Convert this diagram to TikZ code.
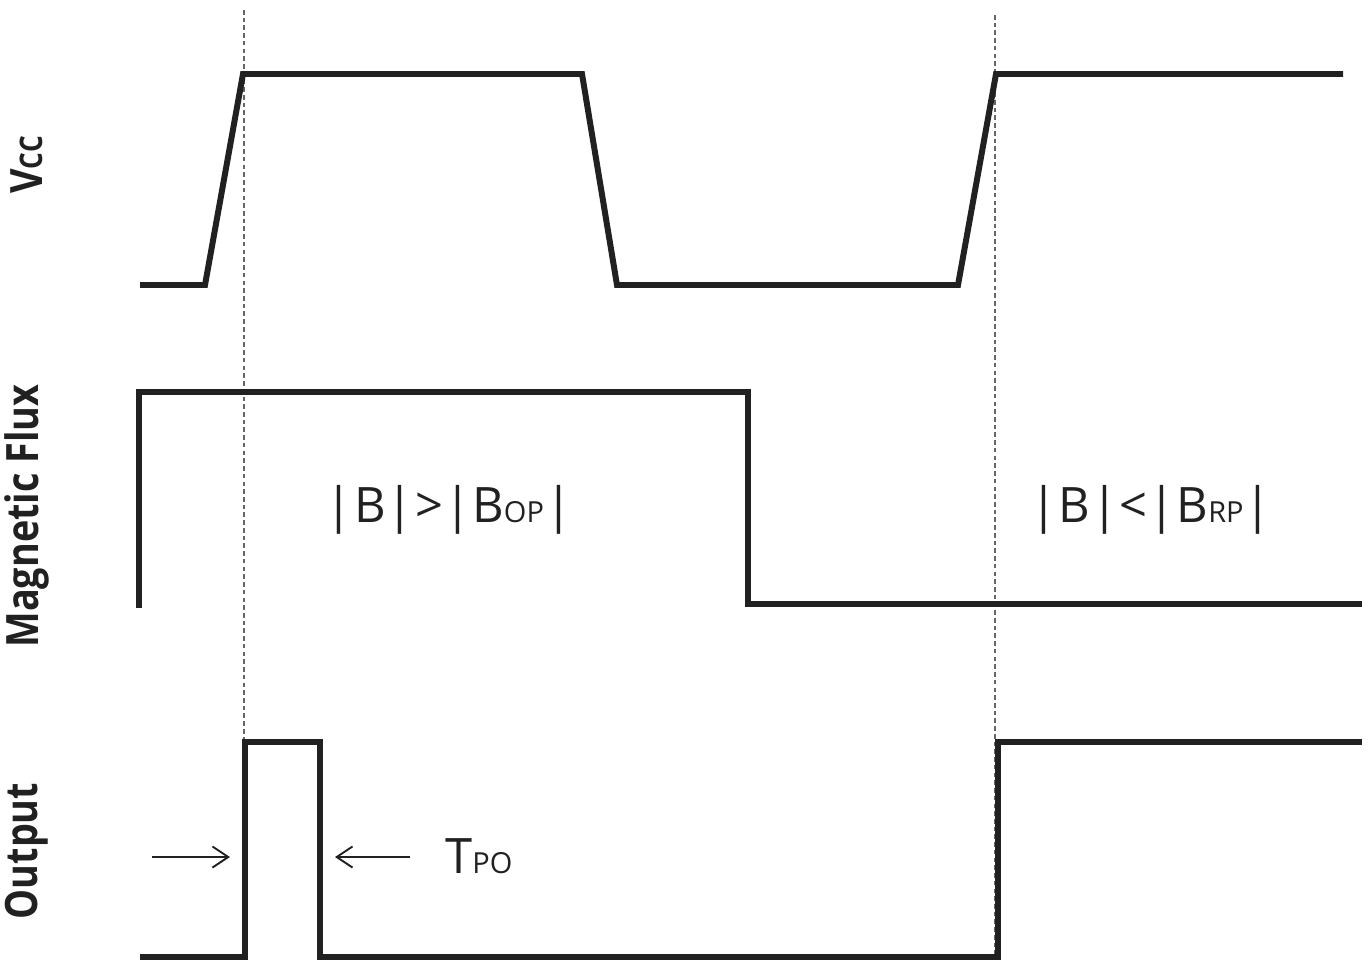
\documentclass[tikz,border=0pt]{standalone}
\usepackage{fontspec}
\setmainfont{Open Sans}
\usetikzlibrary{arrows.meta}

\newcommand{\gap}{\hspace{0.7pt}}

\begin{document}
\begin{tikzpicture}[x=0.02cm, y=-0.02cm, >={Straight Barb[length=9pt, width=12pt]},
    % Stil für die Signalverläufe
        signal/.style={line width=3.4pt, draw=black!87},
    % Stil für die gestrichelten Markierungen
        marker/.style={line width=0.6pt, draw=black!60, dash pattern=on 2.6pt off 1.8pt},
    % Stil für die Achsenbeschriftungen
        axislabel/.style={rotate=90, inner sep=0pt, text=black!87, font=\bfseries\fontsize{21.5}{24}\selectfont},
    % Stil für die Texte im Diagramm
        note/.style={inner sep=0pt, text=black!87, font=\fontsize{27.8}{30}\selectfont},
        tpoarrow/.style={->, line width=1.1pt, draw=black!87}]

        \useasboundingbox (0,0) rectangle (1370,960);

        % Achsenbeschriftungen
        \node[axislabel] (vcc) at (27,165) {\scalebox{1}[1.18]{V{\fontsize{15}{16}\selectfont CC}}};
        \node[axislabel] (flux) at (27,516) {\scalebox{1}[1.18]{Magnetic Flux}};
        \node[axislabel] (output) at (27,851) {\scalebox{1}[1.18]{Output}};

        % gestrichelte Markierungen
        \draw[marker] (244,10) -- (244,960);
        \draw[marker] (995,15) -- (995,960);

        % Signalverläufe
        \draw[signal] (140,285) -- (205,285) -- (243,74) -- (582,74) -- (617,285) -- (958,285) -- (996,74) -- (1343,74);
        \draw[signal] (139,608) -- (139,392) -- (748,392) -- (748,604) -- (1362,604);
        \draw[signal] (140,957) -- (245,957) -- (245,742) -- (320,742) -- (320,957) -- (998,957) -- (998,742) -- (1362,742);

        % Beschriftungen der Zustände
        \node[note, anchor=base] (bop) at (449,522) {|\gap B\gap|\gap>\gap|\gap B{\fontsize{16.5}{18}\selectfont OP}\gap|};
        \node[note, anchor=base] (brp) at (1151,522) {|\gap B\gap|\gap<\gap|\gap B{\fontsize{16.5}{18}\selectfont RP}\gap|};
        \node[note, anchor=base west] (tpo) at (445,873) {T{\fontsize{16.5}{18}\selectfont PO}};

        % Pfeile für die Pulsbreite
        \coordinate (leftstart) at (152,857);
        \coordinate (leftend) at (230,857);
        \coordinate (rightstart) at (410,857);
        \coordinate (rightend) at (335,857);
        \draw[tpoarrow] (leftstart) -- (leftend);
        \draw[tpoarrow] (rightstart) -- (rightend);
    \end{tikzpicture}
\end{document}
